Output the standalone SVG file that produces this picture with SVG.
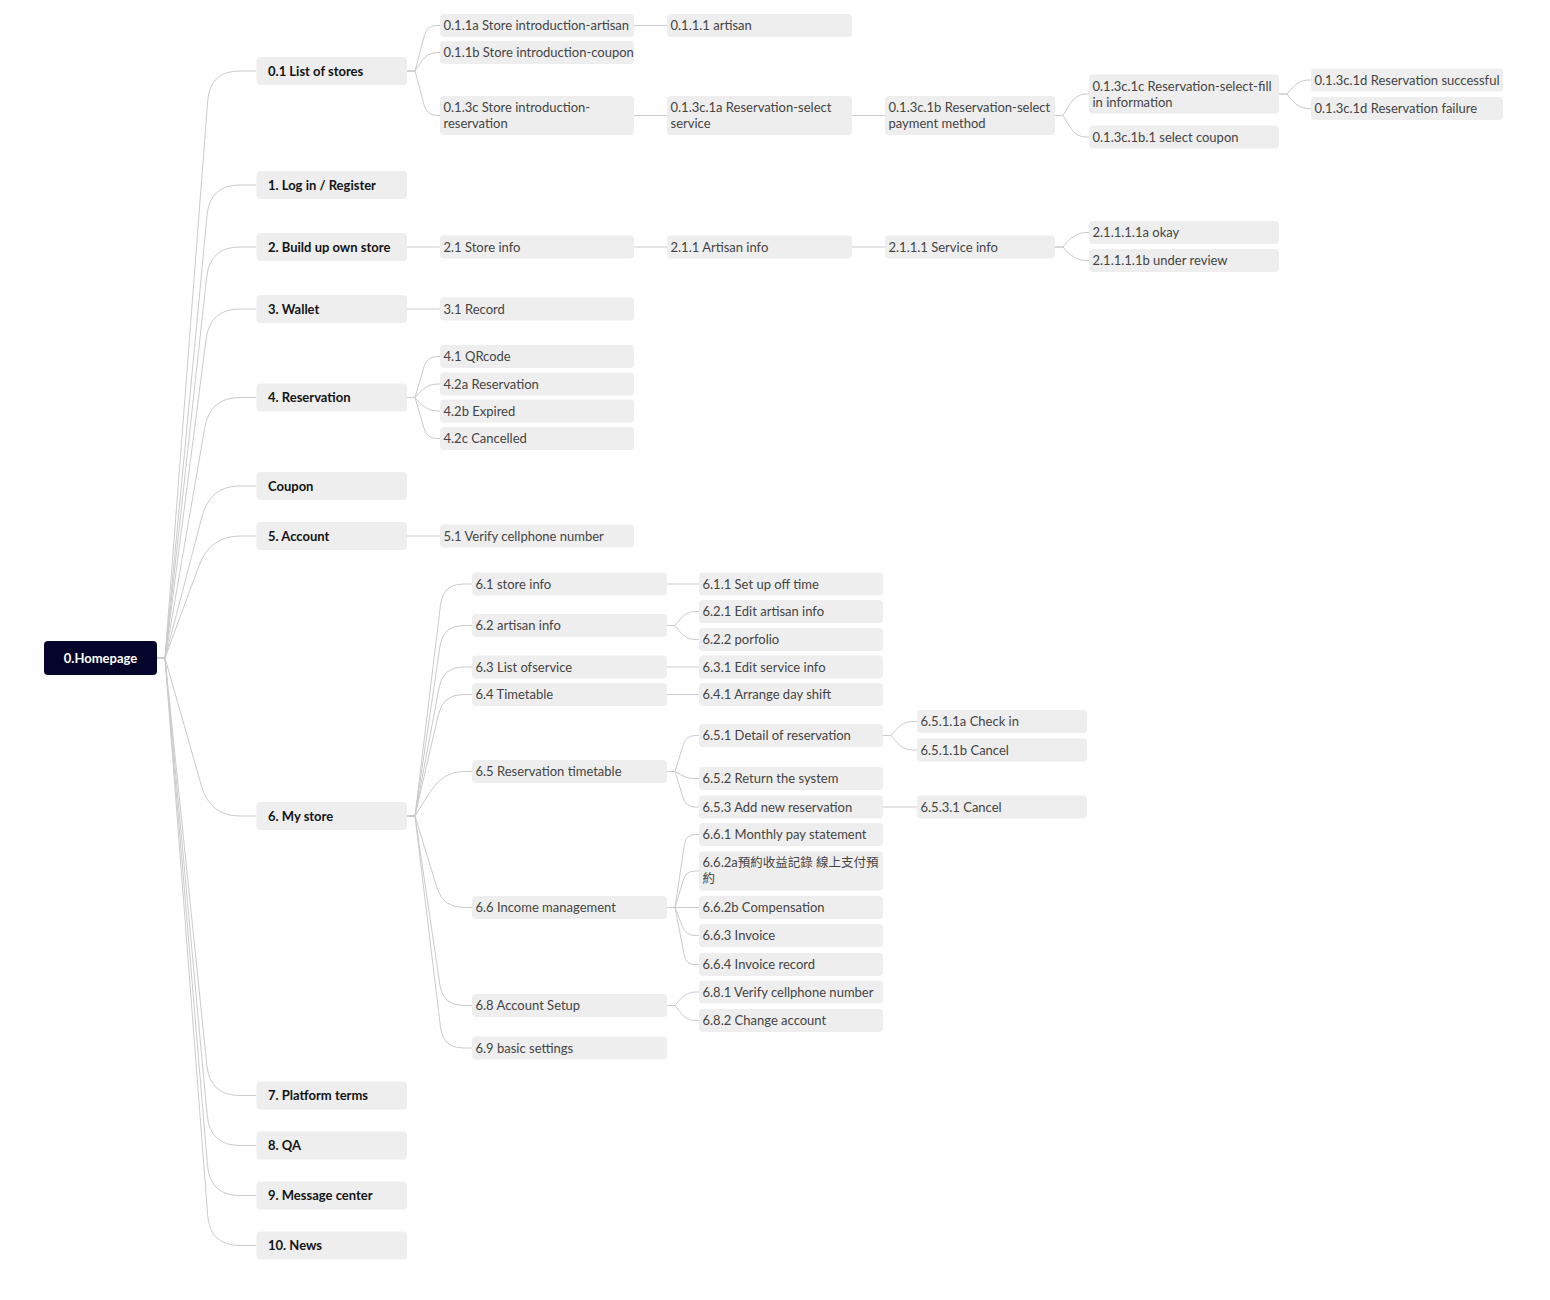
<svg xmlns="http://www.w3.org/2000/svg" width="1550" height="1300" viewBox="0 0 1550 1300">
  <style>
    .bg { fill: #ffffff; }
    .root rect { fill: #05052b; }
    .root text { fill: #ffffff; font-family: Lato, "Liberation Sans", sans-serif; font-size: 13px; font-weight: 700; text-anchor: middle; }
    .l1 rect { fill: #eeeeee; }
    .l1 text { fill: #141414; font-family: Lato, "Liberation Sans", sans-serif; font-size: 13px; font-weight: 700; }
    .l2 rect { fill: #eeeeee; }
    .l2 text { fill: #444444; font-family: Lato, "Noto Sans CJK TC", "Liberation Sans", sans-serif; font-size: 13px; }
    .cjk { font-size: 12.5px; }
    .links path { fill: none; stroke: #cbcbcb; stroke-width: 1; }
  </style>
  <rect class="bg" x="0" y="0" width="1550" height="1300"/>

  <g class="links">
    <!-- root to first level -->
    <path d="M157,658 L165,658 L207.7,101 Q210,71 240,71 L256,71"/>
    <path d="M157,658 L165,658 L207.1,215 Q210,185 240,185 L256,185"/>
    <path d="M157,658 L165,658 L206.7,277 Q210,247 240,247 L256,247"/>
    <path d="M157,658 L165,658 L206.1,339 Q210,309 240,309 L256,309"/>
    <path d="M157,658 L165,658 L204.8,427.5 Q210,397.5 240,397.5 L256,397.5"/>
    <path d="M157,658 L165,658 L202.2,516 Q210,486 240,486 L256,486"/>
    <path d="M157,658 L165,658 L198.9,566 Q210,536 240,536 L256,536"/>
    <path d="M157,658 L165,658 L201.5,786 Q210,816 240,816 L256,816"/>
    <path d="M157,658 L165,658 L206.9,1065.5 Q210,1095.5 240,1095.5 L256,1095.5"/>
    <path d="M157,658 L165,658 L207.2,1115.5 Q210,1145.5 240,1145.5 L256,1145.5"/>
    <path d="M157,658 L165,658 L207.5,1165.5 Q210,1195.5 240,1195.5 L256,1195.5"/>
    <path d="M157,658 L165,658 L207.7,1215.5 Q210,1245.5 240,1245.5 L256,1245.5"/>

    <!-- 0.1 list of stores branch -->
    <path d="M407,71 L415,71 L424.4,35.5 Q427,25.5 437,25.5 L440,25.5"/>
    <path d="M407,71 L415,71 L420.5,62.5 Q427,52.5 437,52.5 L440,52.5"/>
    <path d="M407,71 L415,71 L424.3,105.5 Q427,115.5 437,115.5 L440,115.5"/>
    <path d="M634,25.5 L667,25.5"/>
    <path d="M634,115.5 L667,115.5"/>
    <path d="M852,115.5 L885,115.5"/>
    <path d="M1055,115.5 L1063,115.5 L1070,104 Q1076,94 1086,94 L1089,94"/>
    <path d="M1055,115.5 L1063,115.5 L1070,127 Q1076,137 1086,137 L1089,137"/>
    <path d="M1279,94 L1287,94 L1291.3,89 Q1299,80 1308,80 L1311,80"/>
    <path d="M1279,94 L1287,94 L1291.3,99.5 Q1299,108.5 1308,108.5 L1311,108.5"/>

    <!-- 2. build up own store branch -->
    <path d="M407,247 L440,247"/>
    <path d="M634,247 L667,247"/>
    <path d="M852,247 L885,247"/>
    <path d="M1055,247 L1063,247 L1066.7,242.5 Q1076,232.5 1086,232.5 L1089,232.5"/>
    <path d="M1055,247 L1063,247 L1066.7,251.5 Q1076,260.5 1086,260.5 L1089,260.5"/>

    <!-- 3. wallet -->
    <path d="M407,309 L440,309"/>

    <!-- 4. reservation -->
    <path d="M407,397.5 L415,397.5 L424.1,366.5 Q427,356.5 437,356.5 L440,356.5"/>
    <path d="M407,397.5 L415,397.5 L418.1,394 Q427,384 437,384 L440,384"/>
    <path d="M407,397.5 L415,397.5 L418.1,401 Q427,411 437,411 L440,411"/>
    <path d="M407,397.5 L415,397.5 L424.1,428.5 Q427,438.5 437,438.5 L440,438.5"/>

    <!-- 5. account -->
    <path d="M407,536 L440,536"/>

    <!-- 6. my store -->
    <path d="M407,816 L415,816 L440.6,604 Q443,584 463,584 L472,584"/>
    <path d="M407,816 L415,816 L440.1,645.5 Q443,625.5 463,625.5 L472,625.5"/>
    <path d="M407,816 L415,816 L439.2,687 Q443,667 463,667 L472,667"/>
    <path d="M407,816 L415,816 L438.4,714.5 Q443,694.5 463,694.5 L472,694.5"/>
    <path d="M407,816 L415,816 L430.4,791.5 Q443,771.5 463,771.5 L472,771.5"/>
    <path d="M407,816 L415,816 L436.9,887.5 Q443,907.5 463,907.5 L472,907.5"/>
    <path d="M407,816 L415,816 L440,985.5 Q443,1005.5 463,1005.5 L472,1005.5"/>
    <path d="M407,816 L415,816 L440.6,1028 Q443,1048 463,1048 L472,1048"/>

    <path d="M667,584 L699,584"/>
    <path d="M667,625.5 L675,625.5 L678.9,620.5 Q686,611.5 695,611.5 L699,611.5"/>
    <path d="M667,625.5 L675,625.5 L678.9,630.5 Q686,639.5 695,639.5 L699,639.5"/>
    <path d="M667,667 L699,667"/>
    <path d="M667,694.5 L699,694.5"/>
    <path d="M667,771.5 L675,771.5 L683.3,744.5 Q686,735.5 695,735.5 L699,735.5"/>
    <path d="M667,771.5 L675,771.5 Q686,778.5 693,778.5 L699,778.5"/>
    <path d="M667,771.5 L675,771.5 L683.2,798 Q686,807 695,807 L699,807"/>
    <path d="M667,907.5 L675,907.5 L684.6,843.5 Q686,834.5 695,834.5 L699,834.5"/>
    <path d="M667,907.5 L675,907.5 L683.3,880 Q686,871 695,871 L699,871"/>
    <path d="M667,907.5 L699,907.5"/>
    <path d="M667,907.5 L675,907.5 L682.5,926.5 Q686,935.5 695,935.5 L699,935.5"/>
    <path d="M667,907.5 L675,907.5 L684.3,955.5 Q686,964.5 695,964.5 L699,964.5"/>
    <path d="M667,1005.5 L675,1005.5 L678.7,1001 Q686,992 695,992 L699,992"/>
    <path d="M667,1005.5 L675,1005.5 L679.4,1011.5 Q686,1020.5 695,1020.5 L699,1020.5"/>

    <path d="M883,735.5 L891,735.5 L895.3,730.5 Q903,721.5 912,721.5 L917,721.5"/>
    <path d="M883,735.5 L891,735.5 L895.6,741 Q903,750 912,750 L917,750"/>
    <path d="M883,807 L917,807"/>
  </g>

  <!-- root -->
  <g id="node-homepage" class="root">
    <rect x="44" y="641" width="113" height="34" rx="4"/>
    <text x="100.5" y="662.5">0.Homepage</text>
  </g>

  <!-- first level -->
  <g id="node-0-1" class="l1"><rect x="256.5" y="57" width="150.5" height="28" rx="4"/><text x="268" y="75.5">0.1 List of stores</text></g>
  <g id="node-1" class="l1"><rect x="256.5" y="171" width="150.5" height="28" rx="4"/><text x="268" y="189.5">1. Log in / Register</text></g>
  <g id="node-2" class="l1"><rect x="256.5" y="233" width="150.5" height="28" rx="4"/><text x="268" y="251.5">2. Build up own store</text></g>
  <g id="node-3" class="l1"><rect x="256.5" y="295" width="150.5" height="28" rx="4"/><text x="268" y="313.5">3. Wallet</text></g>
  <g id="node-4" class="l1"><rect x="256.5" y="383.5" width="150.5" height="28" rx="4"/><text x="268" y="402">4. Reservation</text></g>
  <g id="node-coupon" class="l1"><rect x="256.5" y="472" width="150.5" height="28" rx="4"/><text x="268" y="490.5">Coupon</text></g>
  <g id="node-5" class="l1"><rect x="256.5" y="522" width="150.5" height="28" rx="4"/><text x="268" y="540.5">5. Account</text></g>
  <g id="node-6" class="l1"><rect x="256.5" y="802" width="150.5" height="28" rx="4"/><text x="268" y="820.5">6. My store</text></g>
  <g id="node-7" class="l1"><rect x="256.5" y="1081.5" width="150.5" height="28" rx="4"/><text x="268" y="1100">7. Platform terms</text></g>
  <g id="node-8" class="l1"><rect x="256.5" y="1131.5" width="150.5" height="28" rx="4"/><text x="268" y="1150">8. QA</text></g>
  <g id="node-9" class="l1"><rect x="256.5" y="1181.5" width="150.5" height="28" rx="4"/><text x="268" y="1200">9. Message center</text></g>
  <g id="node-10" class="l1"><rect x="256.5" y="1231.5" width="150.5" height="28" rx="4"/><text x="268" y="1250">10. News</text></g>

  <!-- 0.1 branch -->
  <g id="node-0-1-1a" class="l2"><rect x="440" y="14" width="194" height="23" rx="4"/><text x="443.5" y="30">0.1.1a Store introduction-artisan</text></g>
  <g id="node-0-1-1b" class="l2"><rect x="440" y="41" width="194" height="23" rx="4"/><text x="443.5" y="57">0.1.1b Store introduction-coupon</text></g>
  <g id="node-0-1-3c" class="l2"><rect x="440" y="96" width="194" height="39" rx="4"/><text x="443.5" y="112">0.1.3c Store introduction-</text><text x="443.5" y="128">reservation</text></g>
  <g id="node-0-1-1-1" class="l2"><rect x="667" y="14" width="185" height="23" rx="4"/><text x="670.5" y="30">0.1.1.1 artisan</text></g>
  <g id="node-0-1-3c-1a" class="l2"><rect x="667" y="96" width="185" height="39" rx="4"/><text x="670.5" y="112">0.1.3c.1a Reservation-select</text><text x="670.5" y="128">service</text></g>
  <g id="node-0-1-3c-1b" class="l2"><rect x="885" y="96" width="170" height="39" rx="4"/><text x="888.5" y="112">0.1.3c.1b Reservation-select</text><text x="888.5" y="128">payment method</text></g>
  <g id="node-0-1-3c-1c" class="l2"><rect x="1089" y="74.5" width="190" height="39" rx="4"/><text x="1092.5" y="91">0.1.3c.1c Reservation-select-fill</text><text x="1092.5" y="107">in information</text></g>
  <g id="node-0-1-3c-1b-1" class="l2"><rect x="1089" y="125.5" width="190" height="23" rx="4"/><text x="1092.5" y="141.5">0.1.3c.1b.1 select coupon</text></g>
  <g id="node-0-1-3c-1d-ok" class="l2"><rect x="1311" y="68.5" width="192" height="23" rx="4"/><text x="1314.5" y="84.5">0.1.3c.1d Reservation successful</text></g>
  <g id="node-0-1-3c-1d-fail" class="l2"><rect x="1311" y="97" width="192" height="23" rx="4"/><text x="1314.5" y="113">0.1.3c.1d Reservation failure</text></g>

  <!-- 2. branch -->
  <g id="node-2-1" class="l2"><rect x="440" y="235.5" width="194" height="23" rx="4"/><text x="443.5" y="251.5">2.1 Store info</text></g>
  <g id="node-2-1-1" class="l2"><rect x="667" y="235.5" width="185" height="23" rx="4"/><text x="670.5" y="251.5">2.1.1 Artisan info</text></g>
  <g id="node-2-1-1-1" class="l2"><rect x="885" y="235.5" width="170" height="23" rx="4"/><text x="888.5" y="251.5">2.1.1.1 Service info</text></g>
  <g id="node-2-1-1-1-1a" class="l2"><rect x="1089" y="221" width="190" height="23" rx="4"/><text x="1092.5" y="237">2.1.1.1.1a okay</text></g>
  <g id="node-2-1-1-1-1b" class="l2"><rect x="1089" y="249" width="190" height="23" rx="4"/><text x="1092.5" y="265">2.1.1.1.1b under review</text></g>

  <!-- 3. / 4. / 5. branches -->
  <g id="node-3-1" class="l2"><rect x="440" y="297.5" width="194" height="23" rx="4"/><text x="443.5" y="313.5">3.1 Record</text></g>
  <g id="node-4-1" class="l2"><rect x="440" y="345" width="194" height="23" rx="4"/><text x="443.5" y="361">4.1 QRcode</text></g>
  <g id="node-4-2a" class="l2"><rect x="440" y="372.5" width="194" height="23" rx="4"/><text x="443.5" y="388.5">4.2a Reservation</text></g>
  <g id="node-4-2b" class="l2"><rect x="440" y="399.5" width="194" height="23" rx="4"/><text x="443.5" y="415.5">4.2b Expired</text></g>
  <g id="node-4-2c" class="l2"><rect x="440" y="427" width="194" height="23" rx="4"/><text x="443.5" y="443">4.2c Cancelled</text></g>
  <g id="node-5-1" class="l2"><rect x="440" y="524.5" width="194" height="23" rx="4"/><text x="443.5" y="540.5">5.1 Verify cellphone number</text></g>

  <!-- 6. my store branch -->
  <g id="node-6-1" class="l2"><rect x="472" y="572.5" width="195" height="23" rx="4"/><text x="475.5" y="588.5">6.1 store info</text></g>
  <g id="node-6-2" class="l2"><rect x="472" y="614" width="195" height="23" rx="4"/><text x="475.5" y="630">6.2 artisan info</text></g>
  <g id="node-6-3" class="l2"><rect x="472" y="655.5" width="195" height="23" rx="4"/><text x="475.5" y="671.5">6.3 List ofservice</text></g>
  <g id="node-6-4" class="l2"><rect x="472" y="683" width="195" height="23" rx="4"/><text x="475.5" y="699">6.4 Timetable</text></g>
  <g id="node-6-5" class="l2"><rect x="472" y="760" width="195" height="23" rx="4"/><text x="475.5" y="776">6.5 Reservation timetable</text></g>
  <g id="node-6-6" class="l2"><rect x="472" y="896" width="195" height="23" rx="4"/><text x="475.5" y="912">6.6 Income management</text></g>
  <g id="node-6-8" class="l2"><rect x="472" y="994" width="195" height="23" rx="4"/><text x="475.5" y="1010">6.8 Account Setup</text></g>
  <g id="node-6-9" class="l2"><rect x="472" y="1036.5" width="195" height="23" rx="4"/><text x="475.5" y="1052.5">6.9 basic settings</text></g>

  <g id="node-6-1-1" class="l2"><rect x="699" y="572.5" width="184" height="23" rx="4"/><text x="702.5" y="588.5">6.1.1 Set up off time</text></g>
  <g id="node-6-2-1" class="l2"><rect x="699" y="600" width="184" height="23" rx="4"/><text x="702.5" y="616">6.2.1 Edit artisan info</text></g>
  <g id="node-6-2-2" class="l2"><rect x="699" y="628" width="184" height="23" rx="4"/><text x="702.5" y="644">6.2.2 porfolio</text></g>
  <g id="node-6-3-1" class="l2"><rect x="699" y="655.5" width="184" height="23" rx="4"/><text x="702.5" y="671.5">6.3.1 Edit service info</text></g>
  <g id="node-6-4-1" class="l2"><rect x="699" y="683" width="184" height="23" rx="4"/><text x="702.5" y="699">6.4.1 Arrange day shift</text></g>
  <g id="node-6-5-1" class="l2"><rect x="699" y="724" width="184" height="23" rx="4"/><text x="702.5" y="740">6.5.1 Detail of reservation</text></g>
  <g id="node-6-5-2" class="l2"><rect x="699" y="767" width="184" height="23" rx="4"/><text x="702.5" y="783">6.5.2 Return the system</text></g>
  <g id="node-6-5-3" class="l2"><rect x="699" y="795.5" width="184" height="23" rx="4"/><text x="702.5" y="811.5">6.5.3 Add new reservation</text></g>
  <g id="node-6-6-1" class="l2"><rect x="699" y="823" width="184" height="23" rx="4"/><text x="702.5" y="839">6.6.1 Monthly pay statement</text></g>
  <g id="node-6-6-2a" class="l2"><rect x="699" y="851.5" width="184" height="39" rx="4"/><text x="702.5" y="867">6.6.2a<tspan class="cjk">預約收益記錄 線上支付預</tspan></text><text x="702.5" y="883"><tspan class="cjk">約</tspan></text></g>
  <g id="node-6-6-2b" class="l2"><rect x="699" y="896" width="184" height="23" rx="4"/><text x="702.5" y="912">6.6.2b Compensation</text></g>
  <g id="node-6-6-3" class="l2"><rect x="699" y="924" width="184" height="23" rx="4"/><text x="702.5" y="940">6.6.3 Invoice</text></g>
  <g id="node-6-6-4" class="l2"><rect x="699" y="953" width="184" height="23" rx="4"/><text x="702.5" y="969">6.6.4 Invoice record</text></g>
  <g id="node-6-8-1" class="l2"><rect x="699" y="980.5" width="184" height="23" rx="4"/><text x="702.5" y="996.5">6.8.1 Verify cellphone number</text></g>
  <g id="node-6-8-2" class="l2"><rect x="699" y="1009" width="184" height="23" rx="4"/><text x="702.5" y="1025">6.8.2 Change account</text></g>

  <g id="node-6-5-1-1a" class="l2"><rect x="917" y="710" width="170" height="23" rx="4"/><text x="920.5" y="726">6.5.1.1a Check in</text></g>
  <g id="node-6-5-1-1b" class="l2"><rect x="917" y="738.5" width="170" height="23" rx="4"/><text x="920.5" y="754.5">6.5.1.1b Cancel</text></g>
  <g id="node-6-5-3-1" class="l2"><rect x="917" y="795.5" width="170" height="23" rx="4"/><text x="920.5" y="811.5">6.5.3.1 Cancel</text></g>
</svg>
